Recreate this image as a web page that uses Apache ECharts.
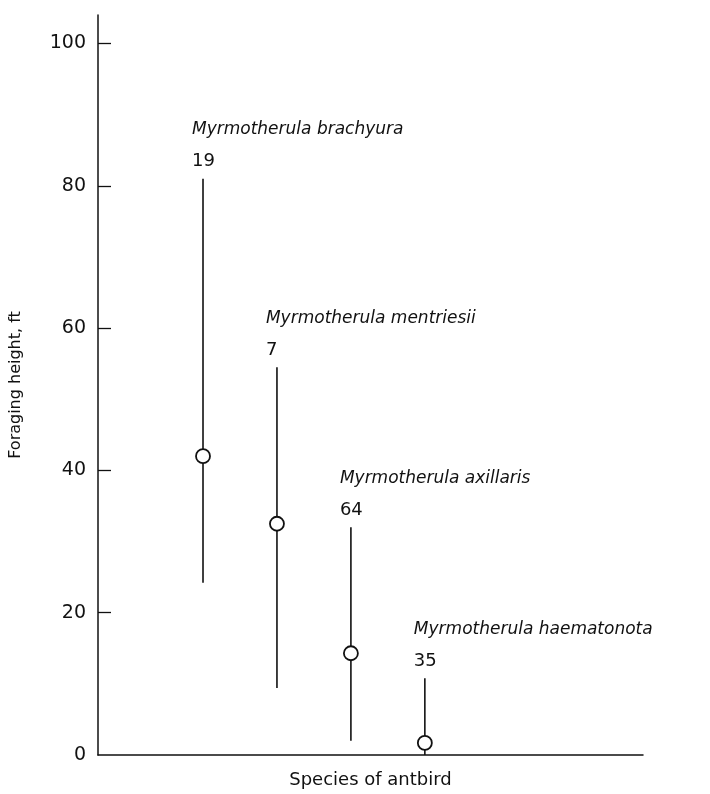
<!DOCTYPE html>
<html>
<head>
<meta charset="utf-8">
<script src="https://cdn.jsdelivr.net/npm/echarts@6/dist/echarts.min.js"></script>
<style>
html,body{margin:0;padding:0;background:#fff;}
#chart{width:710px;height:794px;}
</style>
</head>
<body>
<div id="chart"></div>
<script>
const species = ['Myrmotherula brachyura', 'Myrmotherula mentriesii', 'Myrmotherula axillaris', 'Myrmotherula haematonota'];
const sampleSizes = [19, 7, 64, 35];
const means = [42, 32.5, 14.3, 1.7];
const highs = [81, 54.5, 32, 10.8];
const lows = [24.2, 9.4, 2, 0];
const yTicks = [0, 20, 40, 60, 80, 100];

const data = species.map((s, i) => [i, lows[i], means[i], highs[i], sampleSizes[i]]);

const ink = '#111';
const chart = echarts.init(document.getElementById('chart'));

chart.setOption({
  animation: false,
  backgroundColor: '#fff',
  grid: { left: 98, right: 67, top: 15, bottom: 37 },
  xAxis: {
    type: 'value', min: -1.42, max: 5.95,
    axisLine: { show: true, onZero: false, lineStyle: { color: ink, width: 1.5 } },
    axisTick: { show: false }, axisLabel: { show: false }, splitLine: { show: false },
    name: 'Species of antbird', nameLocation: 'middle', nameGap: 16,
    nameTextStyle: { fontFamily: 'DejaVu Sans', fontSize: 18, color: ink, letterSpacing: 2 }
  },
  yAxis: {
    type: 'value', min: 0, max: 104, interval: 20,
    axisLine: { show: true, onZero: false, lineStyle: { color: ink, width: 1.5 } },
    axisTick: { show: true, inside: true, length: 13, customValues: yTicks.slice(1), lineStyle: { color: ink, width: 1.3 } },
    axisLabel: { customValues: yTicks, margin: 12, fontFamily: 'DejaVu Sans', fontSize: 19, color: ink },
    splitLine: { show: false },
    name: 'Foraging height, ft', nameLocation: 'middle', nameGap: 74,
    nameTextStyle: { fontFamily: 'DejaVu Sans', fontSize: 16, color: ink, letterSpacing: 2 }
  },
  series: [{
    type: 'custom',
    data: data,
    encode: { x: 0, y: [1, 2, 3] },
    renderItem: function (params, api) {
      const i = api.value(0);
      const pLow = api.coord([i, api.value(1)]);
      const pMean = api.coord([i, api.value(2)]);
      const pHigh = api.coord([i, api.value(3)]);
      const n = api.value(4);
      const name = species[i];
      return {
        type: 'group',
        children: [
          { type: 'line', shape: { x1: pLow[0], y1: pLow[1], x2: pHigh[0], y2: pHigh[1] },
            style: { stroke: ink, lineWidth: 1.6 } },
          { type: 'circle', shape: { cx: pMean[0], cy: pMean[1], r: 7 },
            style: { fill: '#fff', stroke: ink, lineWidth: 1.8 } },
          { type: 'text', x: pHigh[0] - 11, y: pHigh[1] - 17,
            style: { text: String(n), fill: ink, font: '18px "DejaVu Sans"', align: 'left', verticalAlign: 'middle', textAlign: 'left', textVerticalAlign: 'middle' } },
          { type: 'text', x: pHigh[0] - 11, y: pHigh[1] - 49,
            style: { text: name, fill: ink, font: 'italic 17px "DejaVu Sans"', letterSpacing: 0.8, align: 'left', verticalAlign: 'middle', textAlign: 'left', textVerticalAlign: 'middle' } }
        ]
      };
    }
  }]
});
</script>
</body>
</html>
